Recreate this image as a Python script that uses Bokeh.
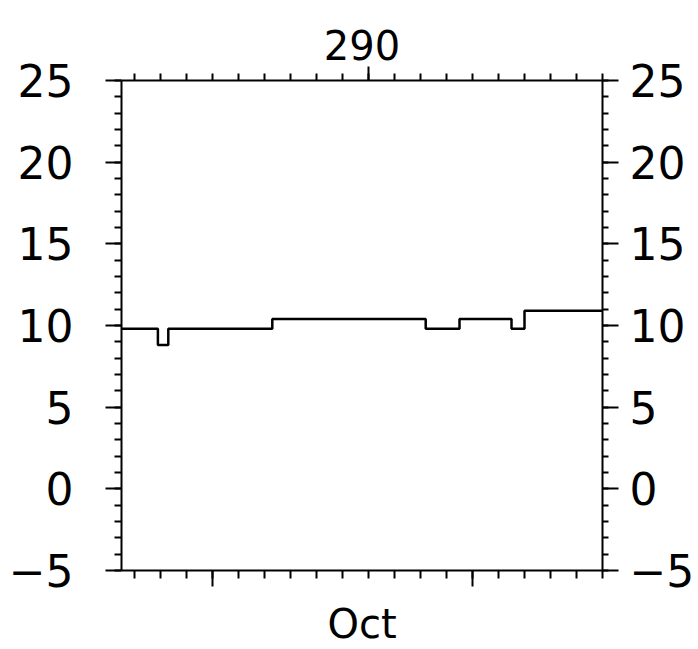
from bokeh.plotting import figure
from bokeh.models import LinearAxis, FixedTicker, Range1d
from bokeh.embed import file_html
from bokeh.resources import INLINE

# ---- data ----
x_edges = [0, 1.4, 1.8, 5.8, 11.7, 13.0, 15.0, 15.5, 18.5]
levels = [9.8, 8.8, 9.8, 10.4, 9.8, 10.4, 9.8, 10.9]
y_ticks = [-5, 0, 5, 10, 15, 20, 25]
y_minor = list(range(-5, 26))
x_minor = [k + 0.5 for k in range(19)]
bottom_major = [3.5, 13.5]
top_major = [9.5]
title_text = "290"
x_label = "Oct"

FONT = "DejaVu Sans"

p = figure(width=698, height=649,
           x_range=Range1d(0, 18.5), y_range=Range1d(-5, 25),
           output_backend="svg", toolbar_location=None,
           x_axis_location=None, y_axis_location=None,
           min_border_left=121, min_border_right=96,
           min_border_top=80, min_border_bottom=77,
           title=title_text)
p.outline_line_color = None
p.background_fill_color = "white"
p.border_fill_color = "white"
for g in p.grid:
    g.visible = False

p.title.text_font = FONT
p.title.text_font_size = "40px"
p.title.text_font_style = "normal"
p.title.align = "center"
p.title.vertical_align = "top"
p.title.text_line_height = 0.8
p.title.text_color = "black"
p.title.standoff = 10


def style(ax, major_out, minor_out, label_size, standoff):
    ax.axis_line_width = 2
    ax.axis_line_color = "black"
    ax.major_tick_line_width = 2
    ax.minor_tick_line_width = 2
    ax.major_tick_line_color = "black"
    ax.minor_tick_line_color = "black"
    ax.major_tick_in = 0
    ax.minor_tick_in = 0
    ax.major_tick_out = major_out
    ax.minor_tick_out = minor_out
    ax.major_label_text_font = FONT
    ax.major_label_text_font_size = label_size
    ax.major_label_text_color = "black"
    ax.major_label_standoff = standoff


left = LinearAxis(ticker=FixedTicker(ticks=y_ticks, minor_ticks=y_minor))
style(left, 16, 7, "44px", 32)
p.add_layout(left, "left")

right = LinearAxis(ticker=FixedTicker(ticks=y_ticks, minor_ticks=y_minor))
style(right, 16, 6, "44px", 11)
p.add_layout(right, "right")

bottom = LinearAxis(ticker=FixedTicker(ticks=bottom_major, minor_ticks=x_minor),
                    axis_label=x_label)
style(bottom, 16, 8, "1px", 0)
bottom.major_label_overrides = {t: "" for t in bottom_major}
bottom.axis_label_text_font = FONT
bottom.axis_label_text_font_size = "40px"
bottom.axis_label_text_font_style = "normal"
bottom.axis_label_text_color = "black"
bottom.axis_label_standoff = 14
p.add_layout(bottom, "below")

top = LinearAxis(ticker=FixedTicker(ticks=top_major, minor_ticks=x_minor))
style(top, 14, 7, "1px", 0)
top.major_label_overrides = {t: "" for t in top_major}
p.add_layout(top, "above")

p.step(x=x_edges, y=levels + [levels[-1]], mode="after",
       line_color="black", line_width=2.5)

open("out.html", "w").write(file_html(p, INLINE))
